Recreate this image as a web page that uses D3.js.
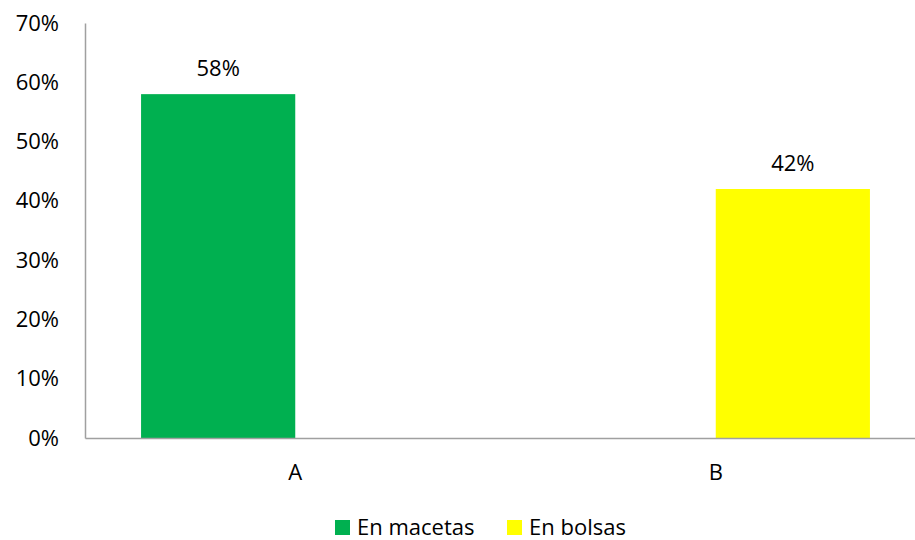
<!DOCTYPE html>
<html>
<head>
<meta charset="utf-8">
<script src="https://cdn.jsdelivr.net/npm/d3@7"></script>
<style>
  body { margin: 0; background: #fff; }
  text { font-family: "Open Sans", sans-serif; fill: #000; }
</style>
</head>
<body>
<svg class="chart"></svg>
<script>
const width = 915,
  height = 540;
const categories = ['A', 'B'];
const seriesNames = ['En macetas', 'En bolsas'];
const seriesColors = ['#00b050', '#ffff00'];
// one value per series per category (the other series is empty there)
const macetas = [0.58, null];
const bolsas = [null, 0.42];
const yTicks = [0, 0.1, 0.2, 0.3, 0.4, 0.5, 0.6, 0.7];

const margin = { left: 85, top: 23, bottom: 438 };
const fontSize = "22px";

let x = d3.scaleBand()
  .domain(categories)
  .range([margin.left, 926]);
let xSeries = d3.scaleBand()
  .domain(seriesNames)
  .range([0, x.bandwidth()])
  .paddingOuter(0.3636);
let y = d3.scaleLinear()
  .domain([0, 0.7])
  .range([margin.bottom, margin.top]);

let chart = d3.select(".chart")
  .attr("width", width)
  .attr("height", height);

let rows = categories.map((c, i) => ({
  cat: c,
  values: [
    { name: seriesNames[0], value: macetas[i], color: seriesColors[0] },
    { name: seriesNames[1], value: bolsas[i], color: seriesColors[1] }
  ].filter(d => d.value != null)
}));

let groups = chart.selectAll(".cat")
  .data(rows)
  .enter().append("g")
  .attr("transform", d => `translate(${x(d.cat)}, 0)`);

groups.selectAll("rect")
  .data(d => d.values)
  .enter().append("rect")
  .attr("x", d => xSeries(d.name))
  .attr("width", xSeries.bandwidth())
  .attr("y", d => y(d.value))
  .attr("height", d => y(0) - y(d.value))
  .attr("fill", d => d.color);

groups.selectAll(".lbl")
  .data(d => d.values)
  .enter().append("text")
  .attr("x", d => xSeries(d.name) + xSeries.bandwidth() / 2)
  .attr("y", d => y(d.value) - 18)
  .attr("text-anchor", "middle")
  .style("font-size", fontSize)
  .text(d => Math.round(d.value * 100) + "%");

// y axis
let yAxis = d3.axisLeft(y)
  .tickValues(yTicks)
  .tickSize(0)
  .tickPadding(26)
  .tickFormat(d3.format(".0%"));
let yg = chart.append("g")
  .attr("transform", `translate(${margin.left}, 0)`)
  .call(yAxis);
yg.select(".domain").attr("stroke", "#a0a0a0").attr("stroke-width", 1.5);
yg.selectAll(".tick text")
  .style("font-size", fontSize)
  .style("font-family", "Open Sans, sans-serif")
  .attr("fill", "#000");

// x axis
let xAxis = d3.axisBottom(x)
  .tickSize(0)
  .tickPadding(26);
let xg = chart.append("g")
  .attr("transform", `translate(0, ${margin.bottom})`)
  .call(xAxis);
xg.select(".domain").attr("stroke", "#a0a0a0").attr("stroke-width", 1.5);
xg.selectAll(".tick text")
  .style("font-size", fontSize)
  .style("font-family", "Open Sans, sans-serif")
  .attr("fill", "#000");

// legend
let legendX = [335, 507];
let legend = chart.selectAll(".legend")
  .data(seriesNames)
  .enter().append("g")
  .attr("transform", (d, i) => `translate(${legendX[i]}, 519)`);
legend.append("rect")
  .attr("y", 1)
  .attr("width", 15)
  .attr("height", 15)
  .attr("fill", (d, i) => seriesColors[i]);
legend.append("text")
  .attr("x", 22)
  .attr("y", 16)
  .style("font-size", fontSize)
  .text(d => d);
</script>
</body>
</html>
